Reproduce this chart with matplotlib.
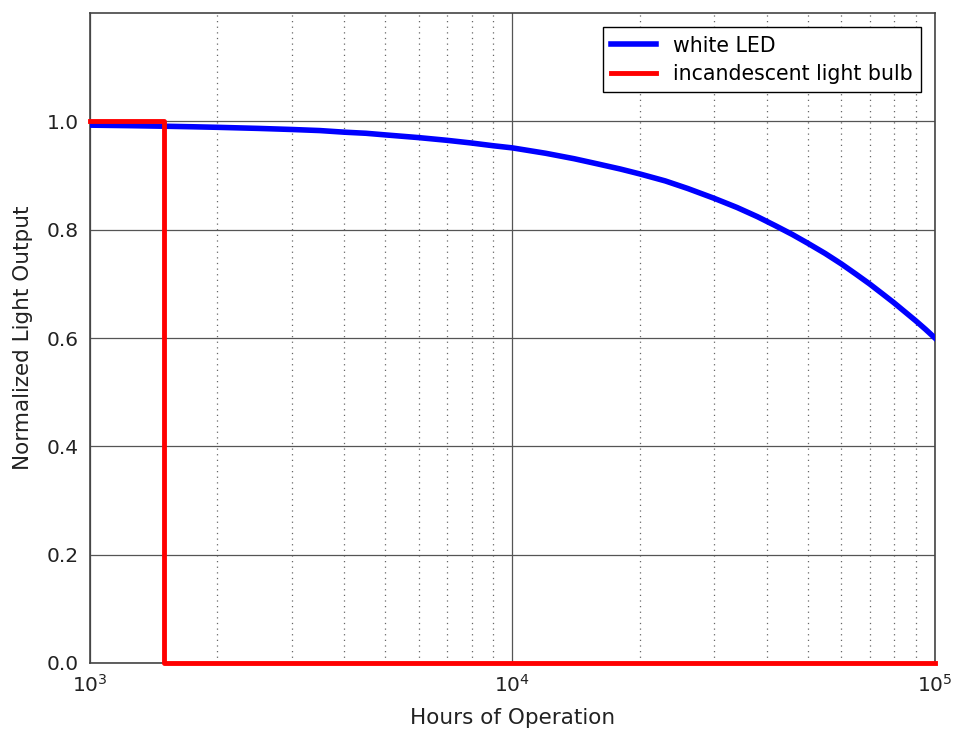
import matplotlib
matplotlib.use("Agg")
import matplotlib.pyplot as plt
import numpy as np

# data
led_hours = [1000, 1250, 1500, 1750, 2000, 2500, 3000, 3500, 4000, 4500, 5000, 6000, 7000,
             8000, 9000, 10000, 12000, 14000, 16000, 18000, 20000, 23000, 26000, 30000,
             34000, 38000, 42000, 46000, 50000, 55000, 60000, 65000, 70000, 75000,
             80000, 85000, 90000, 95000, 100000]
led_output = [0.993, 0.992, 0.991, 0.990, 0.989, 0.987, 0.985, 0.983, 0.980, 0.978, 0.975,
              0.970, 0.965, 0.960, 0.955, 0.951, 0.941, 0.931, 0.921, 0.912, 0.903,
              0.890, 0.876, 0.858, 0.841, 0.824, 0.807, 0.791, 0.775, 0.756, 0.737,
              0.718, 0.700, 0.682, 0.665, 0.648, 0.632, 0.616, 0.600]
bulb_hours = [1000, 1500, 1500, 100000]
bulb_output = [1.0, 1.0, 0.0, 0.0]

fig = plt.figure(figsize=(9.55, 7.36), dpi=100)
ax = fig.add_axes([0.0942, 0.0992, 0.8848, 0.8831])

ax.plot(led_hours, led_output, color='#0000ff', lw=4, label='white LED', zorder=3)
ax.plot(bulb_hours, bulb_output, color='#ff0000', lw=3.5, label='incandescent light bulb',
        zorder=4, clip_on=False)

ax.set_xscale('log')
ax.set_xlim(1000, 100000)
ax.set_ylim(0, 1.2)
ax.set_yticks([0.0, 0.2, 0.4, 0.6, 0.8, 1.0])
ax.set_yticklabels(['0.0', '0.2', '0.4', '0.6', '0.8', '1.0'])

ax.grid(True, which='major', color='#555555', linestyle='-', lw=0.9)
ax.grid(True, which='minor', axis='x', color='#666666', linestyle=(0, (1, 3.5)), lw=0.9)

ax.tick_params(which='both', direction='in', top=True, right=True, labelsize=14.5,
               labelcolor='#222222')
ax.tick_params(which='major', length=0)
ax.tick_params(axis='x', which='major', pad=8)
ax.tick_params(axis='y', which='major', pad=8)
ax.tick_params(which='minor', length=0)
for s in ax.spines.values():
    s.set_color('#444444')
    s.set_linewidth(1.2)

ax.set_xlabel('Hours of Operation', fontsize=15.5, color='#222222', labelpad=9)
ax.set_ylabel('Normalized Light Output', fontsize=15.5, color='#222222', labelpad=10)

leg = ax.legend(loc='upper right', fontsize=14.8, fancybox=False, framealpha=1,
                edgecolor='black', handlelength=2.2, borderaxespad=0.7,
                labelspacing=0.4)
leg.get_frame().set_linewidth(1.0)

fig.savefig('out.png', dpi=100)
